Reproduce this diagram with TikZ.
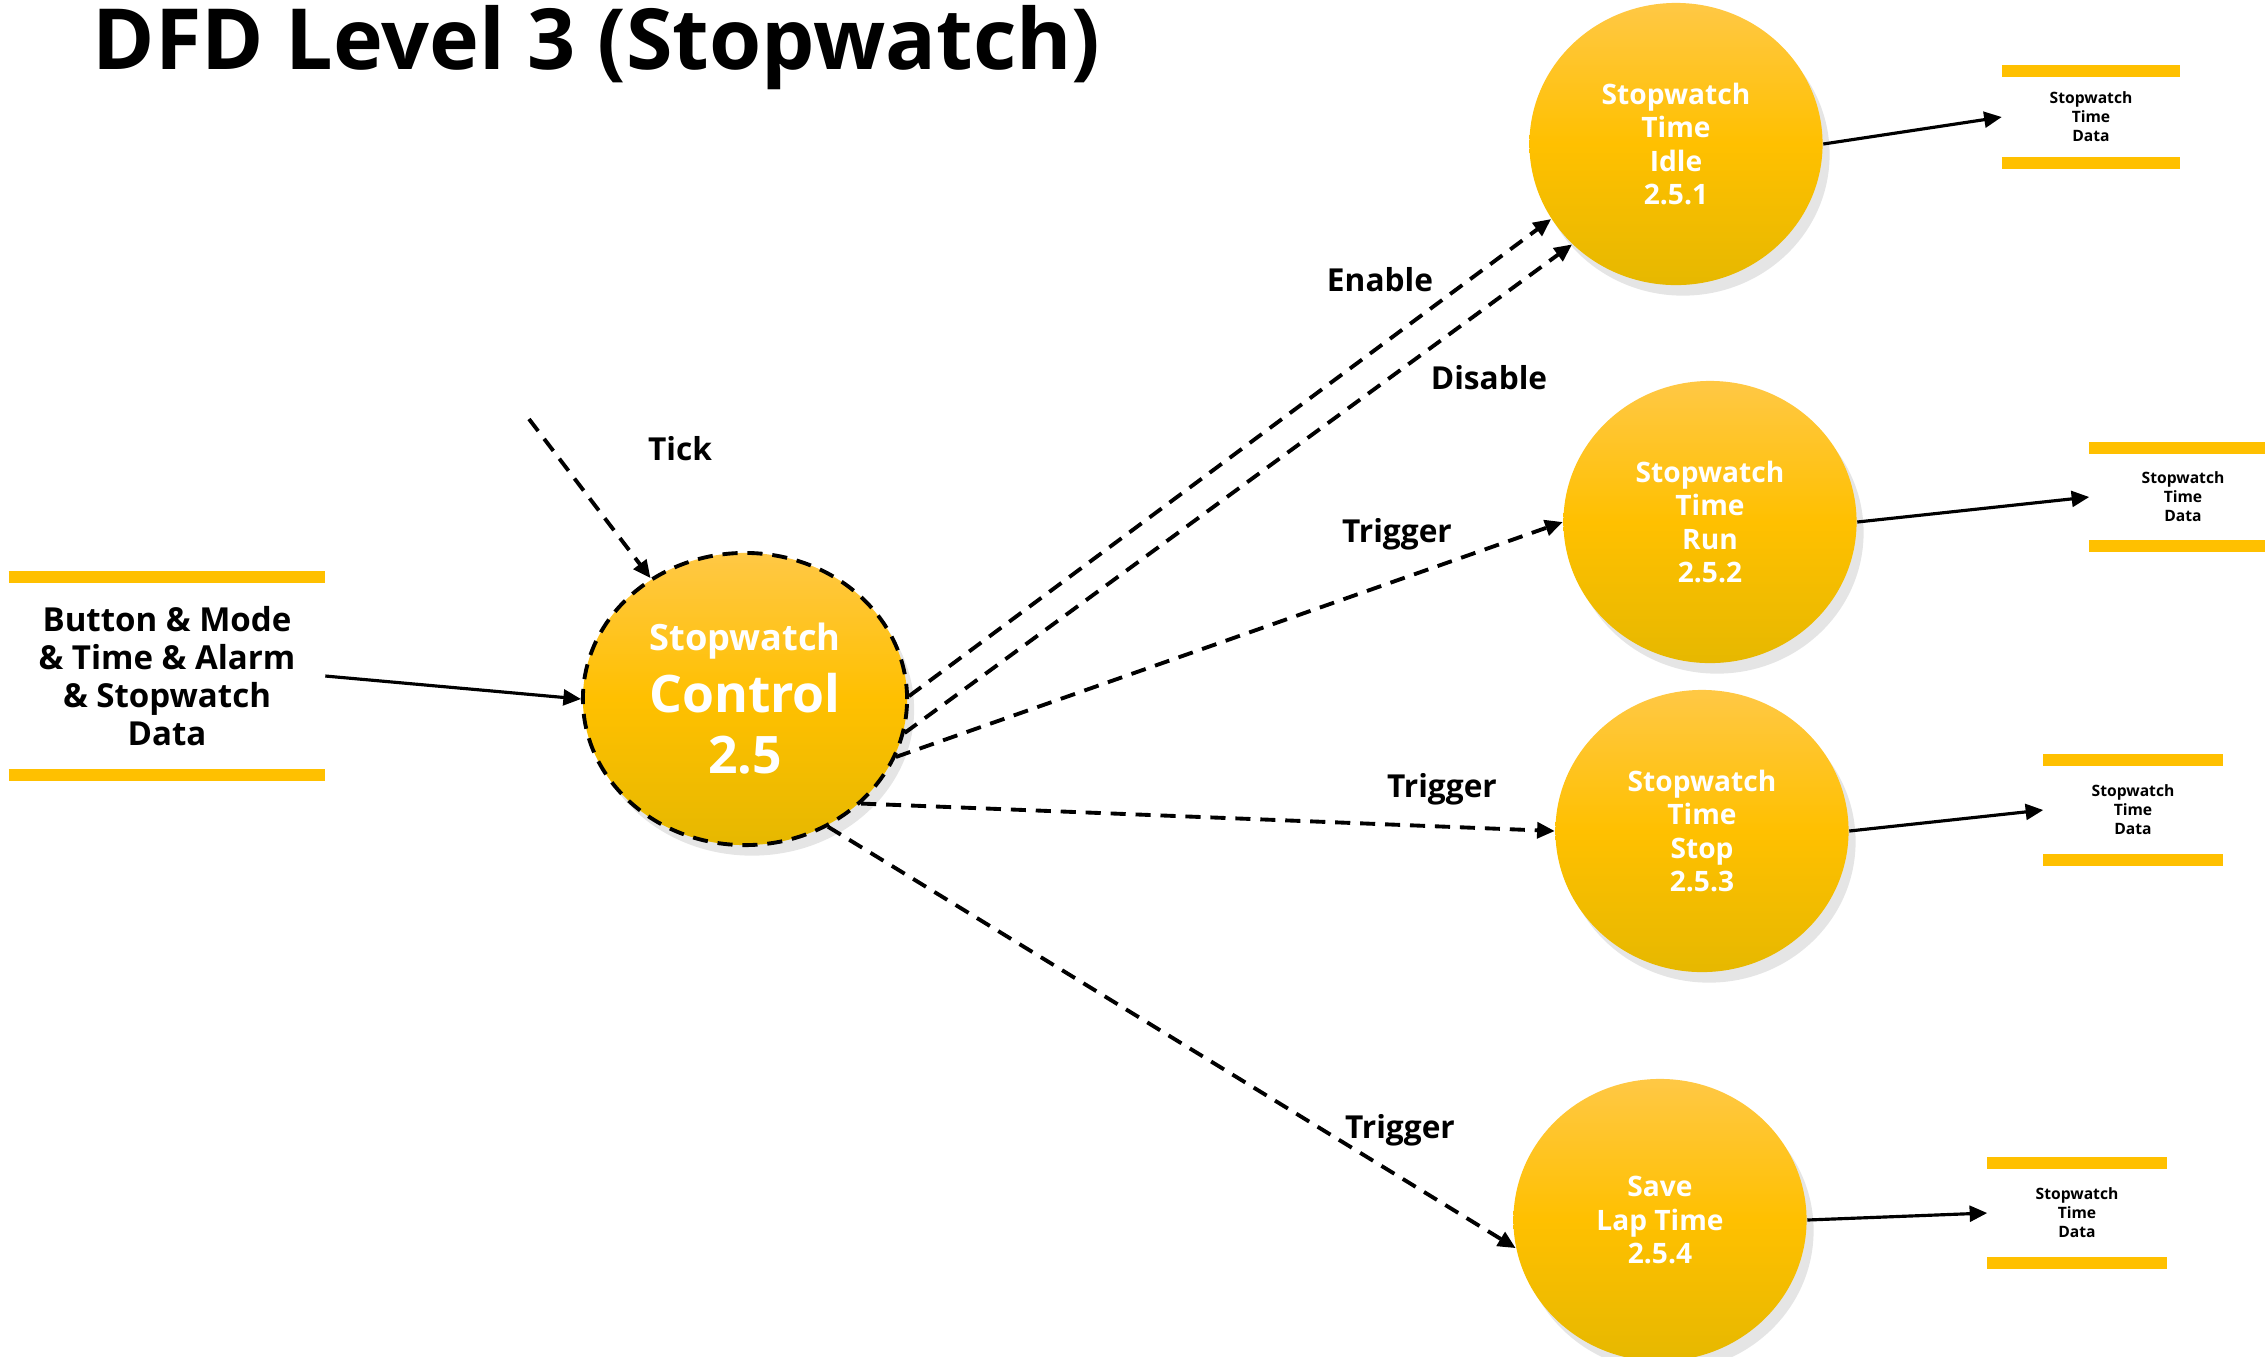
\documentclass[tikz,border=0pt]{standalone}
\usepackage{fontspec}
\setmainfont{Open Sans}
\usetikzlibrary{shapes.geometric,arrows.meta,shadows}
\definecolor{swYellow}{HTML}{FFC000}
\definecolor{swTop}{HTML}{FFC845}
\definecolor{swBot}{HTML}{E6B800}

\begin{document}
\begin{tikzpicture}[x=0.01cm, y=-0.01cm, line join=round,
    proc/.style={ellipse, minimum width=2.93cm, minimum height=2.82cm, inner sep=0pt,
      top color=swTop, bottom color=swBot, middle color=swYellow, text=white, align=center,
      font=\bfseries\fontsize{8}{9.5}\selectfont,
      drop shadow={opacity=.2, shadow xshift=2pt, shadow yshift=-3pt}},
    store/.style={inner sep=0pt, align=center, font=\bfseries\fontsize{4.45}{5.4}\selectfont},
    bar/.style={swYellow, line width=3.3pt},
    flow/.style={line width=.9pt, -{Triangle[length=5pt,width=4.5pt]}},
    ctrl/.style={flow, line width=1.1pt, dash pattern=on 4.3pt off 2.8pt},
    lbl/.style={font=\bfseries\fontsize{9}{11}\selectfont}]
  \path[use as bounding box, fill=white] (0,0) rectangle (2265,1356);

  \node[font=\bfseries\fontsize{24}{28}\selectfont, anchor=base west, inner sep=0pt] (title) at (92,69) {DFD Level 3 (Stopwatch)};

  % control process
  \node[proc, minimum width=3.24cm, minimum height=2.92cm, draw=black, line width=1.1pt,
        dash pattern=on 4.3pt off 2.8pt, font=\bfseries\fontsize{14.7}{17.5}\selectfont] (ctl) at (745,699)
        {{\fontsize{10.3}{12}\selectfont Stopwatch}\\Control\\2.5};

  % sub processes
  \node[proc] (idle) at (1676,144) {Stopwatch\\Time\\Idle\\2.5.1};
  \node[proc] (run)  at (1710,522) {Stopwatch\\Time\\Run\\2.5.2};
  \node[proc] (stop) at (1702,831) {Stopwatch\\Time\\Stop\\2.5.3};
  \node[proc] (lap)  at (1660,1220) {Save\\Lap Time\\2.5.4};

  % data stores
  \node[store, minimum width=3.15cm, minimum height=1.96cm, font=\bfseries\fontsize{9.4}{10.8}\selectfont] (inp) at (167,676)
        {Button \& Mode\\\& Time \& Alarm\\\& Stopwatch\\Data};
  \node[store, minimum width=1.77cm, minimum height=.91cm] (s1) at (2091,117) {Stopwatch\\Time\\Data};
  \node[store, minimum width=1.86cm, minimum height=.96cm] (s2) at (2183,497) {Stopwatch\\Time\\Data};
  \node[store, minimum width=1.78cm, minimum height=.99cm] (s3) at (2133,810) {Stopwatch\\Time\\Data};
  \node[store, minimum width=1.78cm, minimum height=.99cm] (s4) at (2077,1213) {Stopwatch\\Time\\Data};
  \foreach \s in {inp,s1,s2,s3,s4}
    \draw[bar] (\s.north west) -- (\s.north east) (\s.south west) -- (\s.south east);

  % data flows
  \draw[flow] (inp.east) -- (ctl.west);
  \draw[flow] (idle.east) -- (s1.west);
  \draw[flow] (run.east) -- (s2.west);
  \draw[flow] (stop.east) -- (s3.west);
  \draw[flow] (lap.east) -- (s4.west);

  % control flows
  \coordinate (tickin) at (529,419);
  \draw[ctrl] (tickin) -- (ctl.128);
  \draw[ctrl] (ctl.1) -- (idle.211);
  \draw[ctrl] (ctl.-12) -- (idle.224);
  \draw[ctrl] (ctl.-21) -- (run.west);
  \draw[ctrl] (ctl.-42) -- (stop.west);
  \draw[ctrl] (ctl.-57) -- (lap.191);

  \node[lbl] (tick) at (680,449) {Tick};
  \node[lbl] (en)   at (1380,280) {Enable};
  \node[lbl] (dis)  at (1489,378) {Disable};
  \node[lbl] (tr1)  at (1397,534) {Trigger};
  \node[lbl] (tr2)  at (1442,789) {Trigger};
  \node[lbl] (tr3)  at (1400,1130) {Trigger};
\end{tikzpicture}
\end{document}
